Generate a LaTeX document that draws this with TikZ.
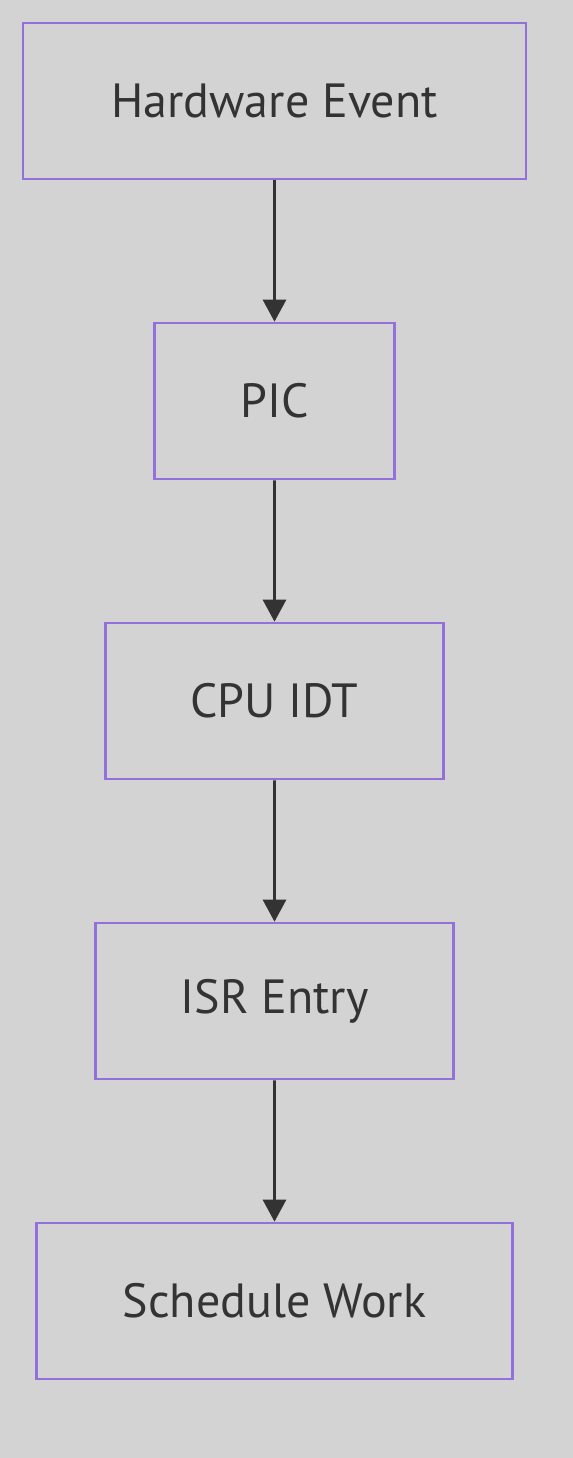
\documentclass[tikz,border=0pt]{standalone}
\usepackage{fontspec}
\setmainfont{PT Sans}
\usetikzlibrary{arrows.meta}
\definecolor{bggray}{HTML}{D3D3D3}
\definecolor{boxline}{HTML}{9370DB}
\definecolor{inkgray}{HTML}{333333}
\tikzset{
  stepbox/.style={draw=boxline,line width=1.3pt,fill=bggray,text=inkgray,
    minimum height=78pt,inner sep=0pt,font=\fontsize{24}{28}\selectfont},
  flowarrow/.style={draw=inkgray,line width=1.4pt,-{Triangle[length=11pt,width=11.5pt]}}
}
\begin{document}
\begin{tikzpicture}[x=0.5pt,y=-0.5pt,level distance=150pt,
  edge from parent/.style={flowarrow}]
\fill[bggray] (0,0) rectangle (573,1458);
\useasboundingbox (0,0) rectangle (573,1458);
\node [stepbox,minimum width=251.5pt] (hw) at (274.5,101) {Hardware Event}
  child {
  node [stepbox,minimum width=120pt] (pic) {PIC}
  child {
  node [stepbox,minimum width=169pt] (idt) {CPU IDT}
  child {
  node [stepbox,minimum width=179pt] (isr) {ISR Entry}
  child {
  node [stepbox,minimum width=238pt] (work) {Schedule Work}
  }
  }
  }
  };
\end{tikzpicture}
\end{document}
